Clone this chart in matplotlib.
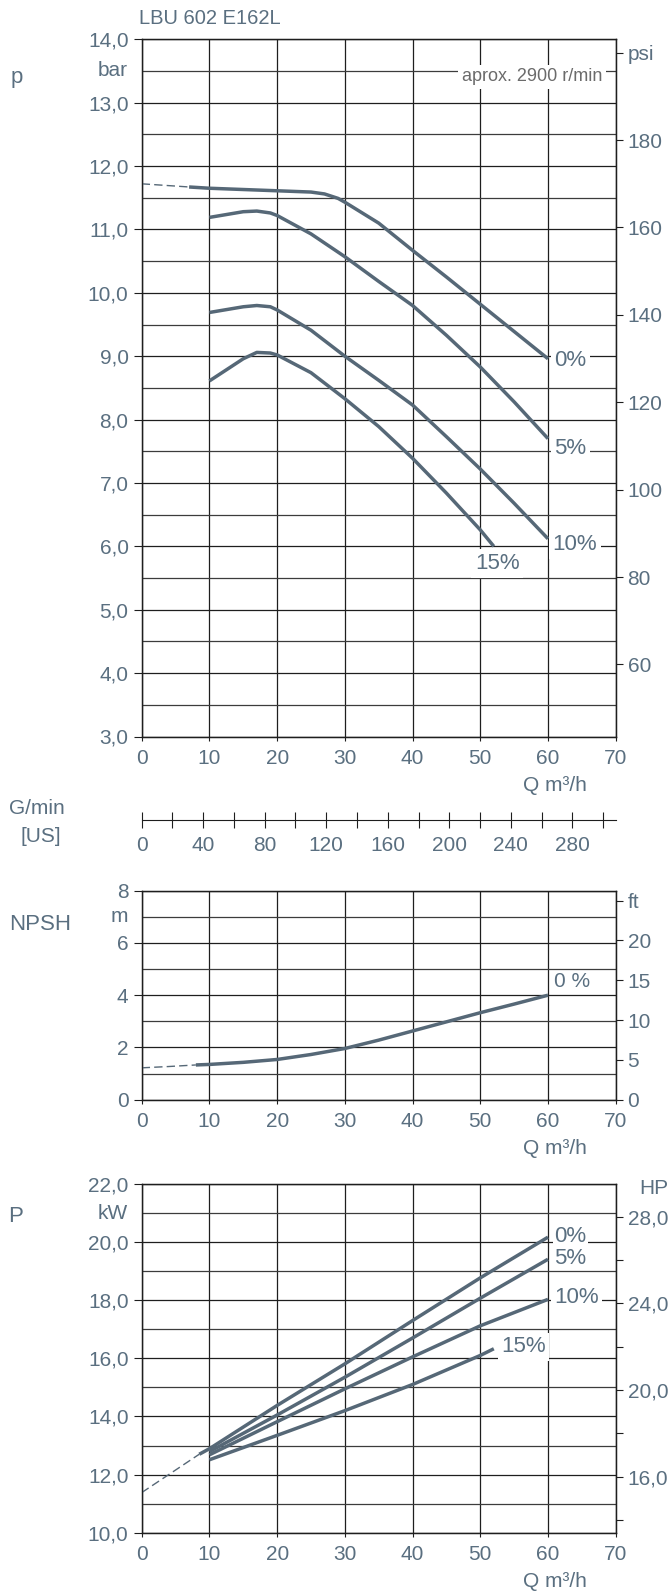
import matplotlib
matplotlib.use('Agg')
import matplotlib.pyplot as plt

plt.rcParams['font.family'] = ['Liberation Sans', 'DejaVu Sans']

TXT = '#5a6f80'
CURVE = '#566877'
GRID = '#1e1e1e'
TS = 15

W, H = 670, 1593

# --- datos ---
q_ticks = [0, 10, 20, 30, 40, 50, 60, 70]

bar_ticks = [3, 4, 5, 6, 7, 8, 9, 10, 11, 12, 13, 14]
bar_labels = ['3,0', '4,0', '5,0', '6,0', '7,0', '8,0', '9,0', '10,0', '11,0', '12,0', '13,0', '14,0']
psi_ticks = [60, 80, 100, 120, 140, 160, 180, 200]
psi_labels = ['60', '80', '100', '120', '140', '160', '180', 'psi']

p0_dash_q = [0, 7]
p0_dash = [11.72, 11.67]
p0_q = [7, 10, 15, 20, 25, 27, 29, 30, 35, 40, 45, 50, 55, 60]
p0 = [11.67, 11.65, 11.63, 11.61, 11.59, 11.56, 11.49, 11.43, 11.10, 10.67, 10.25, 9.82, 9.39, 8.96]
p5_q = [10, 15, 17, 19, 20, 25, 30, 35, 40, 45, 50, 55, 60]
p5 = [11.19, 11.28, 11.29, 11.26, 11.22, 10.93, 10.57, 10.18, 9.80, 9.33, 8.83, 8.28, 7.70]
p10_q = [10, 15, 17, 19, 20, 25, 30, 35, 40, 45, 50, 55, 60]
p10 = [9.69, 9.78, 9.80, 9.78, 9.73, 9.41, 9.00, 8.62, 8.23, 7.73, 7.22, 6.68, 6.12]
p15_q = [10, 12, 15, 17, 19, 20, 25, 30, 35, 40, 45, 50, 52]
p15 = [8.61, 8.75, 8.96, 9.06, 9.05, 9.02, 8.74, 8.33, 7.89, 7.39, 6.84, 6.26, 6.00]

gpm_ticks = [0, 20, 40, 60, 80, 100, 120, 140, 160, 180, 200, 220, 240, 260, 280, 300]
gpm_labels = ['0', '', '40', '', '80', '', '120', '', '160', '', '200', '', '240', '', '280', '']

npsh_ticks = [0, 2, 4, 6, 8]
ft_ticks = [0, 5, 10, 15, 20, 25]
ft_labels = ['0', '5', '10', '15', '20', 'ft']
npsh_dash_q = [0, 4, 8]
npsh_dash = [1.22, 1.27, 1.33]
npsh_q = [8, 10, 15, 20, 25, 30, 35, 40, 45, 50, 55, 60]
npsh = [1.33, 1.35, 1.43, 1.54, 1.73, 1.96, 2.28, 2.63, 2.98, 3.33, 3.66, 4.00]

kw_ticks = [10, 12, 14, 16, 18, 20, 22]
kw_labels = ['10,0', '12,0', '14,0', '16,0', '18,0', '20,0', '22,0']
hp_ticks = [14, 16, 18, 20, 22, 24, 26, 28]
hp_labels = ['', '16,0', '', '20,0', '', '24,0', '', '28,0']
kw_dash_q = [0, 8.5]
kw_dash = [11.38, 12.70]
kw0_q = [8.5, 10, 20, 30, 40, 50, 60]
kw0 = [12.70, 12.89, 14.38, 15.81, 17.30, 18.77, 20.17]
kw5_q = [10, 20, 30, 40, 50, 60]
kw5 = [12.79, 14.05, 15.35, 16.70, 18.07, 19.41]
kw10_q = [10, 20, 30, 40, 50, 60]
kw10 = [12.68, 13.82, 14.95, 16.05, 17.12, 18.03]
kw15_q = [10, 20, 30, 40, 50, 52]
kw15 = [12.51, 13.35, 14.20, 15.10, 16.10, 16.33]


def fig_xy(x, y):
    return x / W, 1 - y / H


def base(ax, ylim, yticks, ylabels, minor):
    ax.set_xlim(0, 70)
    ax.set_ylim(*ylim)
    ax.set_xticks(q_ticks)
    ax.set_xticklabels([str(v) for v in q_ticks])
    ax.set_yticks(yticks)
    ax.set_yticklabels(ylabels)
    ax.set_yticks(minor, minor=True)
    ax.grid(which='major', color=GRID, lw=0.9)
    ax.grid(which='minor', axis='y', color='#3c3c3c', lw=0.9)
    ax.tick_params(axis='y', which='major', direction='out', length=6, pad=3.5,
                   color=GRID, labelcolor=TXT, labelsize=TS)
    ax.tick_params(axis='y', which='minor', length=0)
    ax.tick_params(axis='x', direction='out', length=3.2, pad=5.8,
                   color=GRID, labelcolor=TXT, labelsize=TS)
    for s in ax.spines.values():
        s.set_color(GRID)
        s.set_linewidth(1)
    ax.annotate('Q m³/h', xy=(61, 0), xycoords=('data', 'axes fraction'),
                xytext=(0, -35), textcoords='offset points',
                ha='center', va='center', color=TXT, fontsize=TS)


def right(ax, lim, ticks, labels):
    ax2 = ax.twinx()
    ax2.set_ylim(*lim)
    ax2.set_yticks(ticks)
    ax2.set_yticklabels(labels)
    ax2.tick_params(axis='y', direction='out', length=5, pad=3.5,
                    color=GRID, labelcolor=TXT, labelsize=TS)
    for s in ax2.spines.values():
        s.set_color(GRID)
    return ax2


def unit(ax, txt, y):
    ax.annotate(txt, xy=(0, y), xycoords=('axes fraction', 'data'),
                xytext=(-10, 0), textcoords='offset points',
                ha='right', va='center', color=TXT, fontsize=TS)


def pct(ax, x, y, txt, size=16, pad=2.5):
    ax.text(x, y, txt, ha='left', va='center', color=TXT, fontsize=size,
            bbox=dict(facecolor='white', edgecolor='none', pad=pad), zorder=3)


fig = plt.figure(figsize=(W / 100, H / 100), dpi=100)
left = 141.7 / W
width = 474 / W

# ---------- presion ----------
ax = fig.add_axes([left, 1 - 736.5 / H, width, 697.2 / H])
base(ax, (3, 14), bar_ticks, bar_labels, [v + 0.5 for v in bar_ticks[:-1]])
right(ax, (3 * 14.5038, 14 * 14.5038), psi_ticks, psi_labels)
ax.plot(p0_dash_q, p0_dash, color=CURVE, lw=1.0, ls=(0, (6, 3)), zorder=4)
for q, v in [(p0_q, p0), (p5_q, p5), (p10_q, p10), (p15_q, p15)]:
    ax.plot(q, v, color=CURVE, lw=2.5, solid_capstyle='butt', zorder=4)
unit(ax, 'bar', 13.5)
pct(ax, 60.9, 8.94, '0%')
pct(ax, 60.9, 7.55, '5%')
pct(ax, 60.7, 6.03, '10%')
pct(ax, 49.2, 5.73, '15%')
ax.text(68.0, 13.41, 'aprox. 2900 r/min', ha='right', va='center',
        color='#6b6b6b', fontsize=13,
        bbox=dict(facecolor='white', edgecolor='none', pad=2.5), zorder=3)
fig.text(*fig_xy(139, 18), 'LBU 602 E162L', ha='left', va='center',
         color=TXT, fontsize=14.5)
fig.text(*fig_xy(11, 77), 'p', ha='left', va='center', color=TXT, fontsize=16)

# ---------- G/min US ----------
axg = fig.add_axes([left, 1 - 820 / H, width, 0.0001])
axg.set_xlim(0, 70)
axg.set_yticks([])
for s in ['left', 'right', 'top']:
    axg.spines[s].set_visible(False)
axg.spines['bottom'].set_color(GRID)
axg.set_xticks([g * 0.2271 for g in gpm_ticks])
axg.set_xticklabels(gpm_labels)
axg.tick_params(axis='x', direction='inout', length=12, pad=5.5,
                color=GRID, labelcolor=TXT, labelsize=TS)
fig.text(*fig_xy(9, 808), 'G/min', ha='left', va='center', color=TXT, fontsize=TS)
fig.text(*fig_xy(20, 836), '[US]', ha='left', va='center', color=TXT, fontsize=TS)

# ---------- NPSH ----------
axn = fig.add_axes([left, 1 - 1099.7 / H, width, 209 / H])
base(axn, (0, 8), npsh_ticks, [str(v) for v in npsh_ticks], [1, 3, 5, 7])
right(axn, (0, 8 * 3.28084), ft_ticks, ft_labels)
axn.plot(npsh_dash_q, npsh_dash, color=CURVE, lw=1.0, ls=(0, (6, 3)), zorder=4)
axn.plot(npsh_q, npsh, color=CURVE, lw=2.5, solid_capstyle='butt', zorder=4)
unit(axn, 'm', 7)
axn.text(60.9, 4.52, '0 %', ha='left', va='center', color=TXT, fontsize=TS, zorder=3)
fig.text(*fig_xy(9, 925), 'NPSH', ha='left', va='center', color=TXT, fontsize=16)

# ---------- potencia ----------
axp = fig.add_axes([left, 1 - 1532.7 / H, width, 348.7 / H])
base(axp, (10, 22), kw_ticks, kw_labels, [11, 13, 15, 17, 19, 21])
right(axp, (10 / 0.7457, 22 / 0.7457), hp_ticks, hp_labels)
axp.plot(kw_dash_q, kw_dash, color=CURVE, lw=1.0, ls=(0, (6, 3)), zorder=4)
for q, v in [(kw0_q, kw0), (kw5_q, kw5), (kw10_q, kw10), (kw15_q, kw15)]:
    axp.plot(q, v, color=CURVE, lw=2.5, solid_capstyle='butt', zorder=4)
unit(axp, 'kW', 21)
pct(axp, 60.9, 20.18, '0%', pad=1.0)
pct(axp, 60.9, 19.45, '5%', pad=0.5)
pct(axp, 60.9, 18.08, '10%')
pct(axp, 53.1, 16.40, '15%')
fig.text(*fig_xy(654, 1188), 'HP', ha='center', va='center', color=TXT, fontsize=TS)
fig.text(*fig_xy(8, 1217), 'P', ha='left', va='center', color=TXT, fontsize=16)

fig.savefig('out.png', dpi=100)
